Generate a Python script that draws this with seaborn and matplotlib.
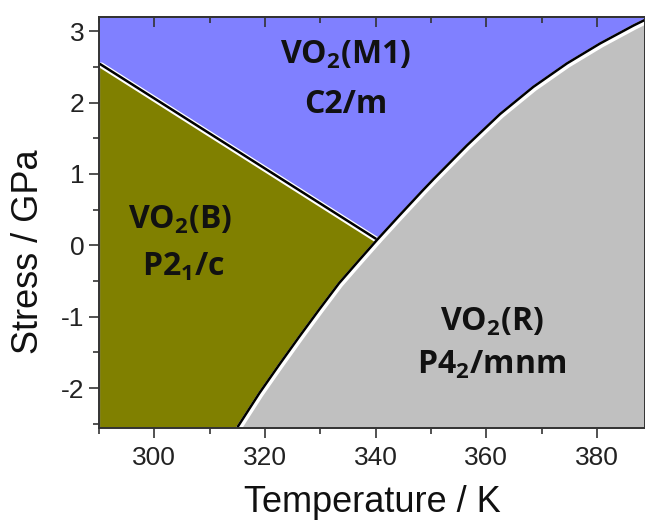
import numpy as np
import pandas as pd
import matplotlib
matplotlib.use("Agg")
import matplotlib.pyplot as plt
import matplotlib.patheffects as pe
import seaborn as sns

# phase boundary between VO2(R) and VO2(B)/VO2(M1)
r_temp = [315.1, 319.0, 322.6, 326.2, 329.8, 333.4, 337.0, 340.3, 344.2, 348.4,
          350.5, 356.5, 362.5, 368.5, 374.6, 380.6, 386.6, 388.7, 390.0]
r_stress = [-2.54, -2.07, -1.67, -1.28, -0.90, -0.53, -0.21, 0.08, 0.41, 0.76,
            0.93, 1.40, 1.84, 2.22, 2.55, 2.83, 3.08, 3.16, 3.21]

# boundary B / M1 (straight line to the triple point)
bm_temp = [290.2, 340.3]
bm_stress = [2.54, 0.08]

x_lim = (290.2, 388.7)
y_lim = (-2.56, 3.2)
x_major = [300, 320, 340, 360, 380]
y_major = [-2, -1, 0, 1, 2, 3]

phase_colors = {"M1": "#8080ff", "B": "#808000", "R": "#c0c0c0"}

sns.set_theme(style="ticks")
plt.rcParams["font.family"] = ["Liberation Sans", "DejaVu Sans"]
plt.rcParams["mathtext.default"] = "regular"
plt.rcParams["axes.unicode_minus"] = False

fig = plt.figure(figsize=(6.45, 5.21), dpi=100)
ax = fig.add_axes([99 / 645, 93 / 521, 546 / 645, 411 / 521])
ax.set_facecolor(phase_colors["M1"])

# VO2(B): left edge, up to the B/M1 line, along it to the triple point,
# then back down the R boundary to the bottom
below = [(t, s) for t, s in zip(r_temp, r_stress) if t <= bm_temp[-1]]
b_x = [bm_temp[0], bm_temp[0], bm_temp[1]] + [t for t, s in reversed(below)] + [below[0][0]]
b_y = [y_lim[0] - 1, bm_stress[0], bm_stress[1]] + [s for t, s in reversed(below)] + [y_lim[0] - 1]
ax.fill(b_x, b_y, color=phase_colors["B"], lw=0, zorder=1)

# VO2(R): everything right of / below the R boundary
ax.fill_between(r_temp + [x_lim[1] + 3], r_stress + [r_stress[-1]], y_lim[0] - 1,
                color=phase_colors["R"], lw=0, zorder=1)

effects = [pe.Stroke(linewidth=4.2, foreground="white", offset=(0.9, -0.9)), pe.Normal()]
lines = pd.concat([
    pd.DataFrame({"T": r_temp, "P": r_stress, "b": "R"}),
    pd.DataFrame({"T": bm_temp, "P": bm_stress, "b": "BM"}),
])
sns.lineplot(data=lines, x="T", y="P", units="b", estimator=None, color="black",
             lw=1.8, ax=ax, zorder=3, path_effects=effects)

ax.set_xlim(*x_lim)
ax.set_ylim(*y_lim)
ax.set_xticks(x_major)
ax.set_xticks(np.arange(290, 390, 10), minor=True)
ax.set_yticks(y_major)
ax.set_yticks(np.arange(-2.5, 3.1, 0.5), minor=True)
ax.tick_params(which="both", color="#333333", width=1.2, direction="out",
               top=False, right=False)
ax.tick_params(which="major", labelsize=19, labelcolor="#222222", length=7)
ax.tick_params(which="minor", length=4)
ax.tick_params(axis="x", pad=6)

sec_x = ax.secondary_xaxis("top")
sec_x.set_xticks(x_major)
sec_x.set_xticks(np.arange(290, 390, 10), minor=True)
sec_y = ax.secondary_yaxis("right")
sec_y.set_yticks(y_major)
sec_y.set_yticks(np.arange(-2.5, 3.1, 0.5), minor=True)
for sec in (sec_x, sec_y):
    sec.tick_params(which="both", direction="in", labeltop=False, labelright=False,
                    color="#333333", width=1.2)
    sec.tick_params(which="major", length=7)
    sec.tick_params(which="minor", length=4)
for sp in list(ax.spines.values()) + [sec_x.spines["top"], sec_y.spines["right"]]:
    sp.set_color("#333333")
    sp.set_linewidth(1.4)
    sp.set_zorder(5)

ax.set_xlabel("Temperature / K", fontsize=26, color="#111111", labelpad=11)
ax.set_ylabel("Stress / GPa", fontsize=26, color="#111111")
ax.yaxis.set_label_coords(-0.097, 0.43)

lab = dict(fontsize=23, fontweight="bold", family=["Open Sans", "DejaVu Sans"],
           color="#111111", ha="center", va="center", zorder=4)
ax.text(334.6, 2.67, r"VO$_2$(M1)", **lab)
ax.text(334.6, 1.97, "C2/m", **lab)
ax.text(304.7, 0.36, r"VO$_2$(B)", **lab)
ax.text(305.2, -0.30, r"P2$_1$/c", **lab)
ax.text(361.1, -1.07, r"VO$_2$(R)", **lab)
ax.text(361.0, -1.68, r"P4$_2$/mnm", **lab)

fig.savefig("out.png", dpi=100)
